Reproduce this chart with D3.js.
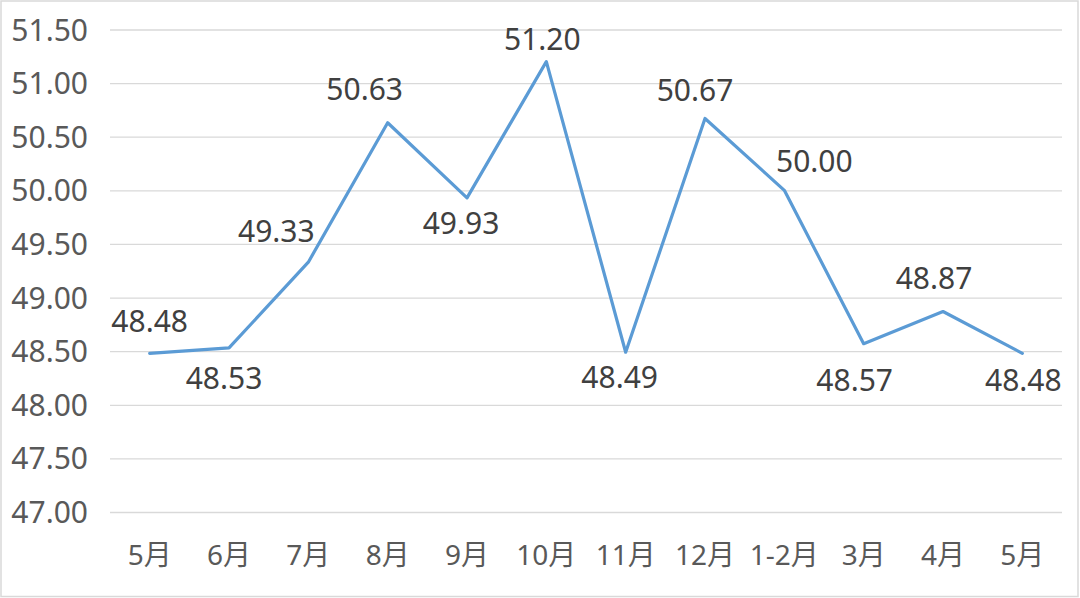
<!DOCTYPE html>
<html>
<head>
<meta charset="utf-8">
<script src="https://cdn.jsdelivr.net/npm/d3@7"></script>
<style>
  html, body { margin: 0; padding: 0; background: #fff; }
  svg { display: block; }
</style>
</head>
<body>
<svg id="chart" width="1080" height="598"></svg>
<script>
const categories = ["5月", "6月", "7月", "8月", "9月", "10月", "11月", "12月", "1-2月", "3月", "4月", "5月"];
const values = [48.48, 48.53, 49.33, 50.63, 49.93, 51.20, 48.49, 50.67, 50.00, 48.57, 48.87, 48.48];
const yTicks = [47.0, 47.5, 48.0, 48.5, 49.0, 49.5, 50.0, 50.5, 51.0, 51.5];
// label placement offsets (dx, dy of baseline relative to point)
const labelOffsets = [[0, -21], [-5, 41], [-32, -20], [-23, -23], [-6, 36], [-4, -12], [-6, 36], [-10, -17], [30, -18], [-9, 47], [-9, -22], [1, 38]];

const W = 1080, H = 598;
const plot = { left: 110, right: 1062, top: 29.5, bottom: 512 };
const svg = d3.select("#chart");

// outer border
svg.append("rect").attr("x", 1).attr("y", 1).attr("width", W - 3).attr("height", H - 2.5)
  .attr("fill", "#fff").attr("stroke", "#d9d9d9").attr("stroke-width", 1.5);

const x = d3.scaleBand().domain(d3.range(categories.length)).range([plot.left, plot.right]);
const y = d3.scaleLinear().domain([47, 51.5]).range([plot.bottom, plot.top]);

const numFont = "'Noto Sans', 'Open Sans', sans-serif";
const cjkFont = "'Noto Sans', 'Noto Sans CJK SC', sans-serif";

// y axis with gridlines
const yAxis = d3.axisLeft(y).tickValues(yTicks).tickFormat(d3.format(".2f"))
  .tickSize(-(plot.right - plot.left)).tickPadding(22);
const gy = svg.append("g").attr("transform", `translate(${plot.left},0)`).call(yAxis);
gy.select(".domain").remove();
gy.selectAll(".tick line").attr("stroke", "#d9d9d9").attr("stroke-width", 1.3);
gy.selectAll(".tick text").attr("fill", "#595959").attr("font-family", numFont)
  .attr("font-size", 30).attr("dy", "0.35em");

// x axis
const xAxis = d3.axisBottom(x).tickFormat(i => categories[i]).tickSize(0).tickPadding(0);
const gx = svg.append("g").attr("transform", `translate(0,${plot.bottom})`).call(xAxis);
gx.select(".domain").remove();
gx.selectAll(".tick text").attr("fill", "#595959").attr("font-family", cjkFont)
  .attr("font-size", 28).attr("y", 53).attr("dy", 0);

// line
const line = d3.line().x((d, i) => x(i) + x.bandwidth() / 2).y(d => y(d));
svg.append("path").datum(values).attr("d", line)
  .attr("fill", "none").attr("stroke", "#5b9bd5").attr("stroke-width", 3.2)
  .attr("stroke-linejoin", "round").attr("stroke-linecap", "round");

// data labels
svg.append("g").selectAll("text").data(values).join("text")
  .attr("x", (d, i) => x(i) + x.bandwidth() / 2 + labelOffsets[i][0])
  .attr("y", (d, i) => y(d) + labelOffsets[i][1])
  .attr("text-anchor", "middle")
  .attr("font-family", numFont).attr("font-size", 30).attr("fill", "#404040")
  .text(d => d3.format(".2f")(d));
</script>
</body>
</html>
